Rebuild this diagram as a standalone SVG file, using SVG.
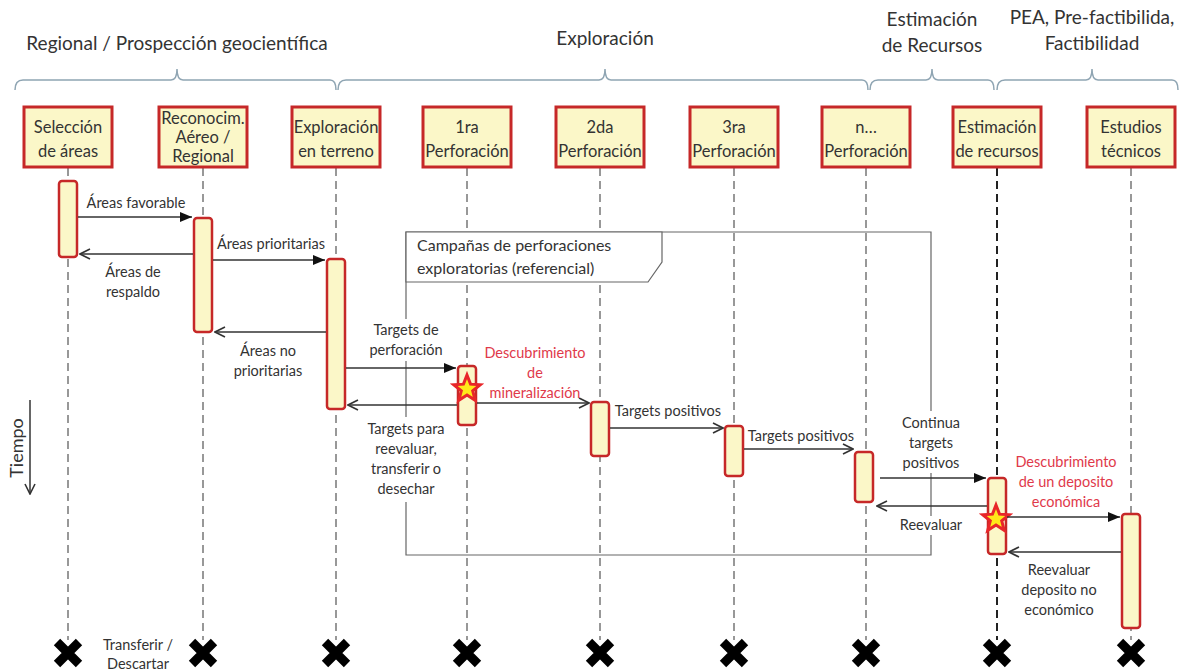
<svg xmlns="http://www.w3.org/2000/svg" width="1182" height="671" viewBox="0 0 1182 671">
<style>
text{font-family:Lato,"Open Sans","Liberation Sans",sans-serif;fill:#333}
.hdr{font-size:19px;text-anchor:middle}
.box{fill:#FBF7C8;stroke:#C62828;stroke-width:3}
.bt{font-size:16.5px;text-anchor:middle}
.act{fill:#FBF7C8;stroke:#C62828;stroke-width:2.5}
.life{stroke:#777;stroke-width:1.5;stroke-dasharray:8 5;fill:none}
.brace{fill:none;stroke:#8FA5B3;stroke-width:1.5}
.msg{stroke:#333;stroke-width:1.5;fill:none}
.lb{font-size:14.5px;text-anchor:middle}
.red{fill:#E0394A}
.frame{fill:none;stroke:#666;stroke-width:1.2}
.bg{fill:#fff}
</style>
<defs>
<marker id="fill" viewBox="0 0 12 10" refX="12" refY="5" markerWidth="12" markerHeight="10" markerUnits="userSpaceOnUse" orient="auto"><path d="M0,0 L12,5 L0,10 z" fill="#111"/></marker>
<marker id="open" viewBox="0 0 12 12" refX="11" refY="6" markerWidth="12" markerHeight="12" markerUnits="userSpaceOnUse" orient="auto"><path d="M1,1 L11,6 L1,11" fill="none" stroke="#333" stroke-width="1.6"/></marker>
<polygon id="star" points="0,-14 3.53,-4.85 13.31,-4.33 5.71,1.85 8.23,11.33 0,6 -8.23,11.33 -5.71,1.85 -13.31,-4.33 -3.53,-4.85" fill="#FFE81A" stroke="#E8262A" stroke-width="3" stroke-linejoin="miter"/>
<path id="cross" d="M-11,-11 L11,11 M11,-11 L-11,11" stroke="#000" stroke-width="9"/>
</defs>
<rect width="1182" height="671" fill="#fff"/>

<g id="headers">
<text class="hdr" x="177" y="50">Regional / Prospección geocientífica</text>
<text class="hdr" x="605" y="45">Exploración</text>
<text class="hdr" x="932" y="26">Estimación</text>
<text class="hdr" x="932" y="52">de Recursos</text>
<text class="hdr" x="1092" y="24">PEA, Pre-factibilida,</text>
<text class="hdr" x="1092" y="50">Factibilidad</text>
<path class="brace" d="M15,90 Q15,80 23,80 H171 Q177,80 177,69 Q177,80 183,80 H330 Q336,80 336,90"/>
<path class="brace" d="M338,90 Q338,80 346,80 H599 Q605,80 605,69 Q605,80 611,80 H862 Q868,80 868,90"/>
<path class="brace" d="M870,90 Q870,80 878,80 H926 Q932,80 932,69 Q932,80 938,80 H988 Q994,80 994,90"/>
<path class="brace" d="M997,90 Q997,80 1005,80 H1086 Q1092,80 1092,69 Q1092,80 1098,80 H1172 Q1178,80 1178,90"/>
</g>

<g id="lifelines">
<line class="life" x1="68" y1="168" x2="68" y2="640"/>
<line class="life" x1="203" y1="168" x2="203" y2="640"/>
<line class="life" x1="336" y1="168" x2="336" y2="640"/>
<line class="life" x1="467" y1="168" x2="467" y2="640"/>
<line class="life" x1="600" y1="168" x2="600" y2="640"/>
<line class="life" x1="734" y1="168" x2="734" y2="640"/>
<line class="life" x1="866" y1="168" x2="866" y2="640"/>
<line class="life" x1="997" y1="168" x2="997" y2="640" style="stroke:#222;stroke-width:2"/>
<line class="life" x1="1131" y1="168" x2="1131" y2="640"/>
</g>

<g id="frame">
<path class="frame" d="M406,232 H931 V555 H406 Z"/>
<path class="frame" d="M406,282 H648 L662,262 V232 H406 Z" style="fill:#fff"/>
<text x="417" y="251" style="font-size:16px">Campañas de perforaciones</text>
<text x="417" y="274" style="font-size:16px">exploratorias (referencial)</text>
</g>

<g id="n1"><rect class="box" x="24" y="107" width="88" height="60"/><text class="bt" x="68" y="133">Selección</text><text class="bt" x="68" y="157">de áreas</text></g>
<g id="n2"><rect class="box" x="159" y="107" width="88" height="60"/><text class="bt" x="203" y="124">Reconocim.</text><text class="bt" x="203" y="143">Aéreo /</text><text class="bt" x="203" y="162">Regional</text></g>
<g id="n3"><rect class="box" x="292" y="107" width="88" height="60"/><text class="bt" x="336" y="133">Exploración</text><text class="bt" x="336" y="157">en terreno</text></g>
<g id="n4"><rect class="box" x="423" y="107" width="88" height="60"/><text class="bt" x="467" y="133">1ra</text><text class="bt" x="467" y="157">Perforación</text></g>
<g id="n5"><rect class="box" x="556" y="107" width="88" height="60"/><text class="bt" x="600" y="133">2da</text><text class="bt" x="600" y="157">Perforación</text></g>
<g id="n6"><rect class="box" x="690" y="107" width="88" height="60"/><text class="bt" x="734" y="133">3ra</text><text class="bt" x="734" y="157">Perforación</text></g>
<g id="n7"><rect class="box" x="822" y="107" width="88" height="60"/><text class="bt" x="866" y="133">n…</text><text class="bt" x="866" y="157">Perforación</text></g>
<g id="n8"><rect class="box" x="953" y="107" width="88" height="60"/><text class="bt" x="997" y="133">Estimación</text><text class="bt" x="997" y="157">de recursos</text></g>
<g id="n9"><rect class="box" x="1087" y="107" width="88" height="60"/><text class="bt" x="1131" y="133">Estudios</text><text class="bt" x="1131" y="157">técnicos</text></g>

<g id="activations">
<rect class="act" x="59" y="181" width="18" height="76" rx="3"/>
<rect class="act" x="194" y="218" width="18" height="114" rx="3"/>
<rect class="act" x="327" y="259" width="18" height="150" rx="3"/>
<rect class="act" x="458" y="366" width="18" height="59" rx="3"/>
<rect class="act" x="591" y="402" width="18" height="54" rx="3"/>
<rect class="act" x="725" y="426" width="18" height="50" rx="3"/>
<rect class="act" x="855" y="452" width="18" height="50" rx="3"/>
<rect class="act" x="988" y="478" width="18" height="76" rx="3"/>
<rect class="act" x="1122" y="514" width="18" height="114" rx="3"/>
<use href="#star" x="467" y="389"/>
<use href="#star" x="996" y="519"/>
</g>

<g id="connectors">
<line class="msg" x1="78" y1="217" x2="192" y2="217" marker-end="url(#fill)"/>
<line class="msg" x1="193" y1="254" x2="80" y2="254" marker-end="url(#open)"/>
<line class="msg" x1="213" y1="260" x2="325" y2="260" marker-end="url(#fill)"/>
<line class="msg" x1="326" y1="332" x2="215" y2="332" marker-end="url(#open)"/>
<line class="msg" x1="346" y1="368" x2="456" y2="368" marker-end="url(#fill)"/>
<line class="msg" x1="457" y1="405" x2="348" y2="405" marker-end="url(#open)"/>
<line class="msg" x1="477" y1="403" x2="589" y2="403" marker-end="url(#open)"/>
<line class="msg" x1="610" y1="428" x2="723" y2="428" marker-end="url(#open)"/>
<line class="msg" x1="744" y1="449" x2="853" y2="449" marker-end="url(#open)"/>
<line class="msg" x1="880" y1="478" x2="986" y2="478" marker-end="url(#fill)"/>
<line class="msg" x1="987" y1="506" x2="877" y2="506" marker-end="url(#open)"/>
<line class="msg" x1="1007" y1="517" x2="1120" y2="517" marker-end="url(#fill)"/>
<line class="msg" x1="1121" y1="552" x2="1009" y2="552" marker-end="url(#open)"/>
<line class="msg" x1="30" y1="400" x2="30" y2="494" marker-end="url(#open)"/>
</g>

<g id="labels">
<text class="lb" x="136" y="208">Áreas favorable</text>
<text class="lb" x="133" y="277">Áreas de</text>
<text class="lb" x="133" y="297">respaldo</text>
<text class="lb" x="271" y="249">Áreas prioritarias</text>
<text class="lb" x="268" y="356">Áreas no</text>
<text class="lb" x="268" y="376">prioritarias</text>
<rect class="bg" x="362" y="319" width="88" height="42"/>
<text class="lb" x="406" y="335">Targets de</text>
<text class="lb" x="406" y="355">perforación</text>
<rect class="bg" x="356" y="417" width="100" height="85"/>
<text class="lb" x="406" y="434">Targets para</text>
<text class="lb" x="406" y="454">reevaluar,</text>
<text class="lb" x="406" y="474">transferir o</text>
<text class="lb" x="406" y="494">desechar</text>
<text class="lb red" x="535" y="358">Descubrimiento</text>
<text class="lb red" x="535" y="378">de</text>
<text class="lb red" x="535" y="398">mineralización</text>
<text class="lb" x="668" y="416">Targets positivos</text>
<text class="lb" x="801" y="441">Targets positivos</text>
<rect class="bg" x="893" y="411" width="76" height="62"/>
<text class="lb" x="931" y="428">Continua</text>
<text class="lb" x="931" y="448">targets</text>
<text class="lb" x="931" y="468">positivos</text>
<rect class="bg" x="894" y="516" width="74" height="19"/>
<text class="lb" x="931" y="530">Reevaluar</text>
<text class="lb red" x="1066" y="467">Descubrimiento</text>
<text class="lb red" x="1066" y="487">de un deposito</text>
<text class="lb red" x="1066" y="507">económica</text>
<text class="lb" x="1059" y="575">Reevaluar</text>
<text class="lb" x="1059" y="595">deposito no</text>
<text class="lb" x="1059" y="615">económico</text>
<text class="lb" x="138" y="650">Transferir /</text>
<text class="lb" x="138" y="669">Descartar</text>
<text x="0" y="0" transform="translate(23,448) rotate(-90)" style="font-size:18px;text-anchor:middle">Tiempo</text>
</g>

<g id="ends">
<use href="#cross" x="68" y="653"/>
<use href="#cross" x="203" y="653"/>
<use href="#cross" x="336" y="653"/>
<use href="#cross" x="467" y="653"/>
<use href="#cross" x="600" y="653"/>
<use href="#cross" x="734" y="653"/>
<use href="#cross" x="866" y="653"/>
<use href="#cross" x="997" y="653"/>
<use href="#cross" x="1131" y="653"/>
</g>
</svg>
